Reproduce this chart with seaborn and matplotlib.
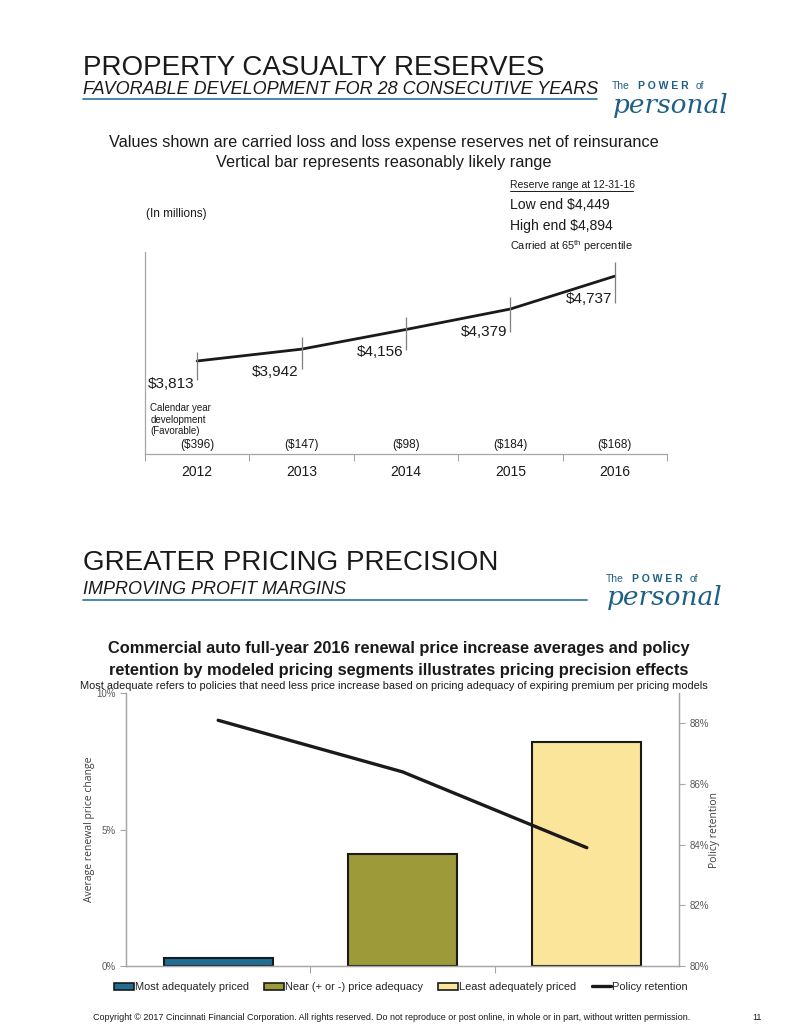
import pandas as pd
import seaborn as sns
import matplotlib.pyplot as plt
from matplotlib.lines import Line2D
from matplotlib.patches import Patch
from matplotlib.ticker import FuncFormatter

# top chart: reserves (in millions)
years = ['2012', '2013', '2014', '2015', '2016']
reserves = [3813, 3942, 4156, 4379, 4737]
range_low = [3603, 3725, 3928, 4133, 4449]
range_high = [3911, 4076, 4297, 4513, 4894]
development = [-396, -147, -98, -184, -168]

# bottom chart: commercial auto pricing segments
segments = ['Most adequately priced', 'Near (+ or -) price adequacy', 'Least adequately priced']
price_change = [0.3, 4.1, 8.2]
retention = [88.1, 86.4, 83.9]
seg_colors = ['#1f6e94', '#9d9a3a', '#fbe59b']

W, H = 799, 1034
TXT = '#1a1a1a'
BLUE = '#1e5f86'
GRID = '#a6a6a6'

sns.set_theme(style='white')
plt.rcParams['font.family'] = ['Liberation Sans', 'DejaVu Sans']
plt.rcParams['mathtext.fontset'] = 'custom'
plt.rcParams['mathtext.rm'] = 'Liberation Sans'

fig = plt.figure(figsize=(W / 100, H / 100), dpi=100)


def fx(x):
    return x / W


def fy(y):
    return 1 - y / H


def rect(x0, y0, x1, y1):
    return [fx(x0), fy(y1), (x1 - x0) / W, (y1 - y0) / H]


def header(title, subtitle, y_title, y_sub, y_line, line_end, sub_size):
    fig.text(fx(83), fy(y_title), title, fontsize=20, color=TXT, va='center')
    fig.text(fx(83), fy(y_sub), subtitle, fontsize=sub_size, style='italic', color=TXT, va='center')
    fig.add_artist(Line2D([fx(83), fx(line_end)], [fy(y_line), fy(y_line)], color='#3d7ea6', lw=1.3))


def logo(x, y):
    fig.text(fx(x), fy(y), 'The', fontsize=7.5, color=BLUE, va='center')
    fig.text(fx(x + 26), fy(y), 'P O W E R', fontsize=7.5, weight='bold', color=BLUE, va='center')
    fig.text(fx(x + 84), fy(y), 'of', fontsize=7.5, color=BLUE, va='center')
    fig.text(fx(x + 1), fy(y + 19), 'personal', fontsize=19, style='italic', family='DejaVu Serif',
             color=BLUE, va='center')


# ---------------- top section ----------------
header('PROPERTY CASUALTY RESERVES', 'FAVORABLE DEVELOPMENT FOR 28 CONSECUTIVE YEARS', 68, 90, 99, 597, 13.0)
logo(612, 86)

fig.text(fx(384), fy(143), 'Values shown are carried loss and loss expense reserves net of reinsurance',
         fontsize=11.7, color=TXT, ha='center', va='center')
fig.text(fx(384), fy(163), 'Vertical bar represents reasonably likely range',
         fontsize=11.7, color=TXT, ha='center', va='center')

fig.text(fx(510), fy(185), 'Reserve range at 12-31-16', fontsize=7.45, color=TXT, va='center')
fig.add_artist(Line2D([fx(510), fx(633)], [fy(191), fy(191)], color=TXT, lw=0.7))
fig.text(fx(510), fy(205), 'Low end $4,449', fontsize=10.1, color=TXT, va='center')
fig.text(fx(510), fy(226), 'High end $4,894', fontsize=10.1, color=TXT, va='center')
fig.text(fx(510), fy(246), r'Carried at 65$^{\mathrm{th}}$ percentile', fontsize=7.9, color=TXT, va='center')
fig.text(fx(146), fy(214), '(In millions)', fontsize=8.5, color=TXT, va='center')

df_res = pd.DataFrame({'pos': range(len(years)), 'year': years, 'reserve': reserves,
                       'low': range_low, 'high': range_high, 'dev': development})

ax1 = fig.add_axes(rect(145, 252, 667, 454))
sns.lineplot(data=df_res, x='pos', y='reserve', ax=ax1, color=TXT, lw=2)
ax1.vlines(df_res['pos'], df_res['low'], df_res['high'], color='#7f7f7f', lw=0.9)
for _, r in df_res.iterrows():
    ax1.annotate(f"${r['reserve']:,}", (r['pos'], r['reserve']), xytext=(-26, -23),
                 textcoords='offset pixels', ha='center', va='center', fontsize=11, color=TXT)
    ax1.text(r['pos'], 0.045, f"(${-r['dev']})", transform=ax1.get_xaxis_transform(),
             ha='center', va='center', fontsize=8.5, color=TXT)
ax1.text(-0.45, 0.17, 'Calendar year\ndevelopment\n(Favorable)', transform=ax1.get_xaxis_transform(),
         ha='left', va='center', fontsize=7, color=TXT, linespacing=1.2)
ax1.set_xlim(-0.5, len(years) - 0.5)
ax1.set_ylim(2800, 5000)
ax1.set_xticks([i - 0.5 for i in range(len(years) + 1)])
ax1.set_xticklabels([])
ax1.set_xticks(range(len(years)), minor=True)
ax1.set_xticklabels(years, minor=True, fontsize=10, color=TXT)
ax1.tick_params(axis='x', which='major', direction='out', length=5, color=GRID, width=0.8, bottom=True)
ax1.tick_params(axis='x', which='minor', length=0, pad=8)
ax1.set_yticks([])
ax1.set_xlabel('')
ax1.set_ylabel('')
for s in ['top', 'right']:
    ax1.spines[s].set_visible(False)
for s in ['left', 'bottom']:
    ax1.spines[s].set_color(GRID)
    ax1.spines[s].set_linewidth(0.9)

# ---------------- bottom section ----------------
header('GREATER PRICING PRECISION', 'IMPROVING PROFIT MARGINS', 563, 590, 600, 587, 13.0)
logo(606, 579)

fig.text(fx(399), fy(648), 'Commercial auto full-year 2016 renewal price increase averages and policy',
         fontsize=11.8, weight='bold', color=TXT, ha='center', va='center')
fig.text(fx(399), fy(670), 'retention by modeled pricing segments illustrates pricing precision effects',
         fontsize=11.8, weight='bold', color=TXT, ha='center', va='center')
fig.text(fx(394), fy(686), 'Most adequate refers to policies that need less price increase based on pricing '
         'adequacy of expiring premium per pricing models', fontsize=7.9, color=TXT, ha='center', va='center')

df_seg = pd.DataFrame({'segment': segments, 'change': price_change, 'retention': retention})

ax2 = fig.add_axes(rect(126, 693, 679, 966))
sns.barplot(data=df_seg, x='segment', y='change', hue='segment', palette=seg_colors, ax=ax2,
            width=0.59, saturation=1, edgecolor='#1a1a1a', linewidth=1.5, legend=False)
ax2.set_ylim(0, 10)
ax2.set_xlim(-0.5, len(segments) - 0.5)
ax2.set_yticks([0, 5, 10])
ax2.yaxis.set_major_formatter(FuncFormatter(lambda v, p: f'{v:.0f}%'))
ax2.set_xticks([i + 0.5 for i in range(len(segments) - 1)])
ax2.set_xticklabels([])
ax2.tick_params(axis='x', direction='out', length=5, color=GRID, width=0.8, bottom=True)
ax2.tick_params(axis='y', direction='out', length=4, color=GRID, width=0.8, left=True,
                labelsize=7, labelcolor='#595959')
ax2.set_xlabel('')
ax2.set_ylabel('Average renewal price change', family='Open Sans', fontsize=7.5, color='#404040', labelpad=1)

ax3 = ax2.twinx()
sns.lineplot(data=df_seg, x='segment', y='retention', ax=ax3, color='#1a1a1a', lw=2.4)
ax3.set_ylim(80, 89)
ax3.set_yticks([80, 82, 84, 86, 88])
ax3.yaxis.set_major_formatter(FuncFormatter(lambda v, p: f'{v:.0f}%'))
ax3.tick_params(axis='y', direction='out', length=4, color=GRID, width=0.8, right=True,
                labelsize=7, labelcolor='#595959')
ax3.set_ylabel('Policy retention', family='Open Sans', fontsize=7.5, color='#404040', labelpad=0)
ax3.set_xlabel('')
for a in (ax2, ax3):
    a.spines['top'].set_visible(False)
    for s in ['left', 'right', 'bottom']:
        a.spines[s].set_color(GRID)
        a.spines[s].set_linewidth(0.9)
    a.grid(False)

handles = [Patch(facecolor=c, edgecolor='#1a1a1a', linewidth=1.2) for c in seg_colors]
handles.append(Line2D([0], [0], color='#1a1a1a', lw=2.4))
fig.legend(handles, segments + ['Policy retention'], loc='center', bbox_to_anchor=(fx(401), fy(987)),
           ncol=4, frameon=False, fontsize=7.9, handlelength=1.8, handleheight=0.6,
           handletextpad=0.1, columnspacing=1.4)

fig.text(fx(93), fy(1018), 'Copyright \u00a9 2017 Cincinnati Financial Corporation. All rights reserved. '
         'Do not reproduce or post online, in whole or in part, without written permission.',
         fontsize=6.48, color=TXT, va='center')
fig.text(fx(752), fy(1018), '11', fontsize=6.5, color=TXT, va='center')

fig.savefig('out.png', dpi=100)
